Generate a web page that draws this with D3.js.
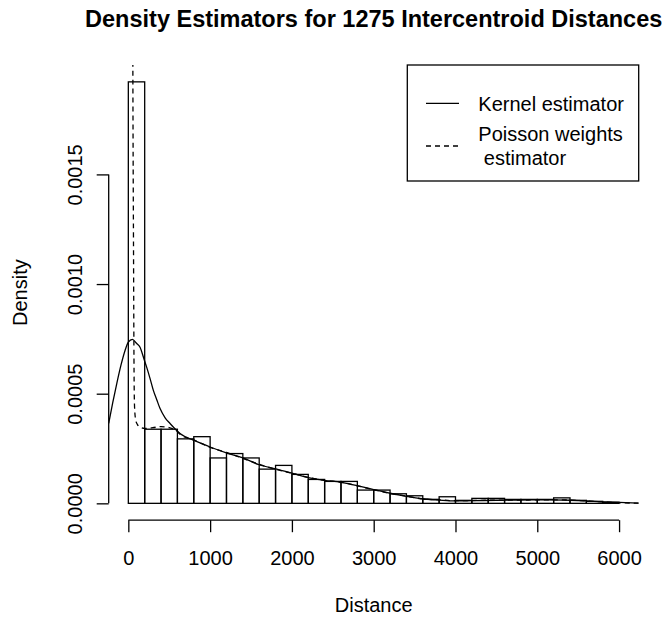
<!DOCTYPE html>
<html>
<head>
<meta charset="utf-8">
<script src="https://cdn.jsdelivr.net/npm/d3@7"></script>
<style>
  body { margin: 0; background: #fff; }
  svg { display: block; font-family: "Liberation Sans", Arial, sans-serif; }
</style>
</head>
<body>
<div id="chart"></div>
<script>
// histogram: bins of width 200 from 0 to 6000, density values
const binStarts = d3.range(0, 6000, 200);
const binDensity = [
  0.001922, 0.000338, 0.000338, 0.000294, 0.000304, 0.000207, 0.000227, 0.000207,
  0.000156, 0.000173, 0.000132, 0.000109, 0.000100, 0.000100, 0.0000605, 0.0000605,
  0.0000436, 0.0000345, 0.0000182, 0.000030, 0.0000136, 0.0000227, 0.0000227, 0.000018,
  0.000018, 0.000018, 0.000025, 0.0000136, 0.0000091, 0.000005
];

// kernel estimator (solid)
const kernelX = [-240, -190, -142, -90, -40, 0, 49, 100, 143, 190, 225, 265, 306, 350, 388, 450,
  510, 570, 632, 700, 795, 900, 1000, 1200, 1400, 1600, 1800, 2000, 2200, 2400, 2600, 2800,
  3000, 3200, 3400, 3600, 3800, 4000, 4200, 4500, 4800, 5100, 5400, 5600, 5800, 6000, 6240];
const kernelY = [0.000365, 0.00046, 0.000545, 0.00063, 0.000697, 0.000735, 0.000748, 0.00073,
  0.000712, 0.00066, 0.00062, 0.00057, 0.000515, 0.00047, 0.000432, 0.00039, 0.000364, 0.00034,
  0.000318, 0.000303, 0.000288, 0.000272, 0.000257, 0.00023, 0.000207, 0.000176, 0.000157,
  0.000138, 0.000117, 0.000105, 0.000096, 0.000081, 0.000063, 0.000046, 0.000032, 0.000021,
  0.000015, 0.000011, 0.000012, 0.000014, 0.000015, 0.000016, 0.000014, 0.000011, 0.000007,
  0.000004, 0.000001];

// Poisson weights estimator (dashed)
const poissonX = [50, 56, 63, 70, 76, 90, 110, 143, 200, 300, 400, 500, 580, 650, 800, 1000,
  1200, 1400, 1600, 1800, 2000, 2200, 2400, 2600, 2800, 3000, 3200, 3400, 3600, 3800, 4000,
  4200, 4500, 4800, 5100, 5400, 5600, 5800, 6000, 6240];
const poissonY = [0.0030, 0.0019, 0.0012, 0.0006, 0.00044, 0.00038, 0.00036, 0.000348, 0.000342,
  0.000345, 0.00035, 0.000345, 0.000333, 0.00031, 0.000289, 0.000255, 0.000232, 0.000205,
  0.000178, 0.000155, 0.000137, 0.000118, 0.000104, 0.000097, 0.00008, 0.000062, 0.000045,
  0.000033, 0.00002, 0.000016, 0.000012, 0.000013, 0.000015, 0.000015, 0.000016, 0.000015,
  0.000011, 0.000007, 0.000003, 0.000001];

const xTicks = [0, 1000, 2000, 3000, 4000, 5000, 6000];
const yTicks = [0, 0.0005, 0.0010, 0.0015];
const legendLabels = ["Kernel estimator", "Poisson weights", " estimator"];

const width = 664, height = 617;
const plot = { left: 108.7, right: 638.7, top: 65, bottom: 520.2 };
const binWidth = 200;
const yMax = d3.max(binDensity);

const svg = d3.select("#chart").append("svg")
  .attr("width", width)
  .attr("height", height);

const x = d3.scaleLinear()
  .domain([-0.04 * 6000, 6000 * 1.04])
  .range([plot.left, plot.right]);
const y = d3.scaleLinear()
  .domain([-0.04 * yMax, 1.04 * yMax])
  .range([plot.bottom, plot.top]);

svg.append("defs").append("clipPath")
  .attr("id", "plotclip")
  .append("rect")
  .attr("x", plot.left).attr("y", plot.top)
  .attr("width", plot.right - plot.left)
  .attr("height", plot.bottom - plot.top);

// bars
svg.append("g")
  .selectAll("rect")
  .data(binStarts)
  .enter()
  .append("rect")
  .attr("x", d => x(d))
  .attr("y", (d, i) => y(binDensity[i]))
  .attr("width", d => x(d + binWidth) - x(d))
  .attr("height", (d, i) => y(0) - y(binDensity[i]))
  .attr("fill", "none")
  .attr("stroke", "#000")
  .attr("stroke-width", 1.3);

// density curves
const line = d3.line()
  .x(d => x(d[0]))
  .y(d => y(d[1]))
  .curve(d3.curveMonotoneX);

const curves = svg.append("g").attr("clip-path", "url(#plotclip)");
curves.append("path")
  .attr("d", line(d3.zip(kernelX, kernelY)))
  .attr("fill", "none")
  .attr("stroke", "#000")
  .attr("stroke-width", 1.3);
curves.append("path")
  .attr("d", line(d3.zip(poissonX, poissonY)))
  .attr("fill", "none")
  .attr("stroke", "#000")
  .attr("stroke-width", 1.3)
  .attr("stroke-dasharray", "5,4");

// x axis
const xAxis = svg.append("g")
  .attr("transform", `translate(0,${plot.bottom})`)
  .call(d3.axisBottom(x).tickValues(xTicks).tickSize(12).tickFormat(d3.format("d")));
xAxis.select(".domain").remove();
xAxis.append("line")
  .attr("x1", x(xTicks[0])).attr("x2", x(xTicks[xTicks.length - 1]))
  .attr("stroke", "#000").attr("stroke-width", 1.3);
xAxis.selectAll(".tick line").attr("stroke-width", 1.3);
xAxis.selectAll(".tick text")
  .attr("y", 44.8).attr("dy", 0)
  .attr("fill", "#000")
  .style("font-size", "20px")
  .style("font-family", "Liberation Sans, Arial, sans-serif");

// y axis
const yAxis = svg.append("g")
  .attr("transform", `translate(${plot.left},0)`)
  .call(d3.axisLeft(y).tickValues(yTicks).tickSize(12).tickFormat(d3.format(".4f")));
yAxis.select(".domain").remove();
yAxis.append("line")
  .attr("y1", y(yTicks[0])).attr("y2", y(yTicks[yTicks.length - 1]))
  .attr("stroke", "#000").attr("stroke-width", 1.3);
yAxis.selectAll(".tick line").attr("stroke-width", 1.3);
yAxis.selectAll(".tick text")
  .attr("x", null).attr("dy", 0)
  .attr("text-anchor", "middle")
  .attr("transform", "translate(-27,0) rotate(-90)")
  .attr("fill", "#000")
  .style("font-size", "20px")
  .style("font-family", "Liberation Sans, Arial, sans-serif");

// title and axis labels
const midX = (plot.left + plot.right) / 2;
svg.append("text")
  .attr("x", midX).attr("y", 27)
  .attr("text-anchor", "middle")
  .style("font-size", "23.5px")
  .style("font-weight", "bold")
  .text("Density Estimators for 1275 Intercentroid Distances");

svg.append("text")
  .attr("x", midX).attr("y", 612)
  .attr("text-anchor", "middle")
  .style("font-size", "20px")
  .text("Distance");

svg.append("text")
  .attr("transform", `translate(27,${(plot.top + plot.bottom) / 2}) rotate(-90)`)
  .attr("text-anchor", "middle")
  .style("font-size", "20px")
  .text("Density");

// legend
const legend = svg.append("g");
legend.append("rect")
  .attr("x", 407.3).attr("y", plot.top)
  .attr("width", plot.right - 407.3).attr("height", 116)
  .attr("fill", "#fff")
  .attr("stroke", "#000")
  .attr("stroke-width", 1.3);

legend.append("line")
  .attr("x1", 426).attr("x2", 459)
  .attr("y1", 103.3).attr("y2", 103.3)
  .attr("stroke", "#000").attr("stroke-width", 1.3);
legend.append("line")
  .attr("x1", 426).attr("x2", 459)
  .attr("y1", 146).attr("y2", 146)
  .attr("stroke", "#000").attr("stroke-width", 1.3)
  .attr("stroke-dasharray", "5,4");

legend.selectAll("text.lbl")
  .data(legendLabels)
  .enter()
  .append("text")
  .attr("class", "lbl")
  .attr("x", 478.3)
  .attr("y", (d, i) => [110.5, 141, 165][i])
  .style("font-size", "20px")
  .style("white-space", "pre")
  .text(d => d);
</script>
</body>
</html>
